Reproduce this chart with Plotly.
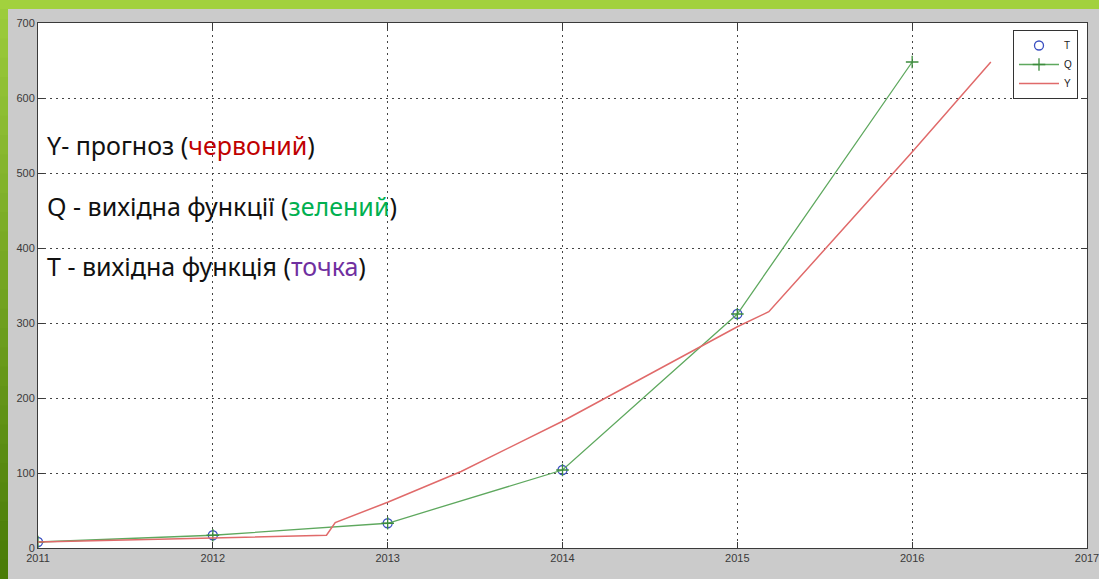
import plotly.graph_objects as go

# ---- data ----
years_T = [2011, 2012, 2013, 2014, 2015]
T_vals = [8, 17, 33, 104, 312]

years_Q = [2011, 2012, 2013, 2014, 2015, 2016]
Q_vals = [8, 17, 33, 104, 312, 648]

years_Y = [2011, 2012, 2012.65, 2012.70, 2013, 2013.42, 2014, 2015, 2015.18, 2016, 2016.45]
Y_vals = [8, 13, 17, 34, 61, 102, 169, 295, 315, 528, 648]

x_ticks = [2011, 2012, 2013, 2014, 2015, 2016, 2017]
y_ticks = [0, 100, 200, 300, 400, 500, 600, 700]

W, H = 1099, 579
ML, MR, MT, MB = 38, 12, 23, 31
PW, PH = W - ML - MR, H - MT - MB

fig = go.Figure()

fig.add_trace(go.Scatter(
    x=years_T, y=T_vals, name="T", mode="markers",
    marker=dict(symbol="circle-open", size=9, color="#3a4fc0", line=dict(width=1.3)),
))
fig.add_trace(go.Scatter(
    x=years_Q, y=Q_vals, name="Q", mode="lines+markers",
    line=dict(color="#5ea85e", width=1.3),
    marker=dict(symbol="cross-thin-open", size=9, color="#3c8c3c", line=dict(width=1.3, color="#3c8c3c")),
))
fig.add_trace(go.Scatter(
    x=years_Y, y=Y_vals, name="Y", mode="lines",
    line=dict(color="#e06a6a", width=1.5),
))

# decorative slide border (green gradient) in paper coordinates
def px_x(p):
    return (p - ML) / PW

def px_y(p):
    return (H - MB - p) / PH

shapes = []
n = 30
for i in range(n):
    t = i / (n - 1)
    r = int(0x9c + (0x4a - 0x9c) * t)
    g = int(0xcc + (0x7c - 0xcc) * t)
    b = int(0x3c + (0x08 - 0x3c) * t)
    y0 = H * i / n
    y1 = H * (i + 1) / n + 1
    shapes.append(dict(type="rect", xref="paper", yref="paper",
                       x0=px_x(0), x1=px_x(8), y0=px_y(y1), y1=px_y(y0),
                       fillcolor=f"rgb({r},{g},{b})", line=dict(width=0), layer="below"))
shapes.append(dict(type="rect", xref="paper", yref="paper",
                   x0=px_x(0), x1=px_x(W), y0=px_y(9), y1=px_y(0),
                   fillcolor="#a2d13e", line=dict(width=0), layer="below"))

fig.update_layout(shapes=shapes)

ann_font = dict(family="Noto Sans, DejaVu Sans, sans-serif", size=25, color="#111111")
texts = [
    ("Y- прогноз (<span style='color:#c00000'>червоний</span>)", 145),
    ("Q - вихідна функції (<span style='color:#00b050'>зелений</span>)", 206),
    ("T - вихідна функція (<span style='color:#7030a0'>точка</span>)", 266),
]
for txt, ypix in texts:
    fig.add_annotation(text=txt, xref="paper", yref="paper",
                       x=px_x(45), y=px_y(ypix), xanchor="left", yanchor="middle",
                       showarrow=False, font=ann_font)

axis_common = dict(
    showline=True, linecolor="#3a3a3a", linewidth=1, mirror="ticks",
    ticks="inside", ticklen=6, tickcolor="#3a3a3a",
    showgrid=True, gridcolor="#444444", gridwidth=1, griddash="2px,4px",
    zeroline=False, ticklabeloverflow="allow", automargin=False,
    tickfont=dict(family="Liberation Sans, Arial, sans-serif", size=11, color="#3a3a3a"),
)

fig.update_xaxes(range=[2011, 2017], tickvals=x_ticks, ticktext=[str(v) for v in x_ticks], **axis_common)
fig.update_yaxes(range=[0, 700], tickvals=y_ticks, ticktext=[str(v) for v in y_ticks], **axis_common)

fig.update_layout(
    width=W, height=H,
    margin=dict(l=ML, r=MR, t=MT, b=MB, autoexpand=False),
    paper_bgcolor="#cbcbcb", plot_bgcolor="#ffffff",
    showlegend=True,
    legend=dict(x=px_x(1013), y=px_y(30), xanchor="left", yanchor="top",
                bgcolor="#ffffff", bordercolor="#333333", borderwidth=1,
                font=dict(family="Liberation Sans, Arial, sans-serif", size=10, color="#222222"),
                itemwidth=40, tracegroupgap=0),
)

fig.write_html("out.html", config={"displayModeBar": False},
               post_script="document.body.style.margin='0';document.body.style.overflow='hidden';")
